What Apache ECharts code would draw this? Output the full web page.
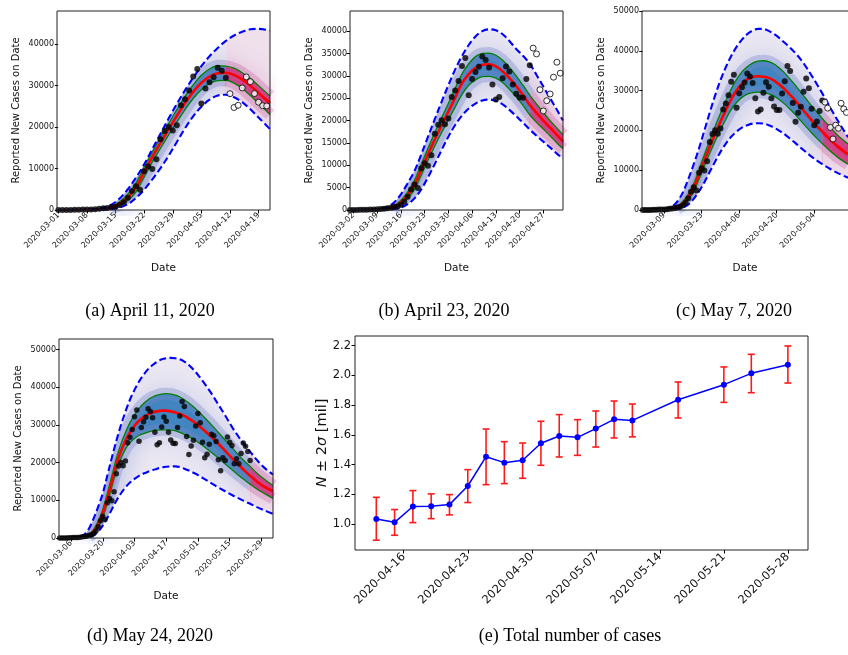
<!DOCTYPE html>
<html><head><meta charset="utf-8">
<script src="https://cdn.jsdelivr.net/npm/echarts@6/dist/echarts.min.js"></script>
<style>html,body{margin:0;padding:0;background:#fff}#c{width:848px;height:655px}</style>
</head><body><div id="c"></div>
<script>
// ---------- data: daily reported new cases, starting 2020-03-01 ----------
const START_DATE = '2020-03-01';
const DAILY = [10,20,25,30,50,70,100,110,150,200,
  300,400,500,700,800,1200,1850,2980,4590,5720,
  4910,9340,10470,9900,12240,17070,19080,20050,19160,20450,
  25280,26730,28820,32200,33980,25680,29310,30840,32050,34300,
  33570,31880,28050,24720,25250,29450,32100,30950,28080,26000,
  25150,25100,29300,32350,36200,34900,26900,22150,24430,25940,
  29700,33050,30600,25420,21300,22250,24850,27500,27100,25600,
  20750,17850,21300,20530,26820,25390,24520,19730,21060,19730,
  22390,25230,24330,22920,20530];

// ---------- panel (a) April 11 ----------
const A_DAYS = [0,6,9,11,13,15,17,19,21,23,25,27,29,31,33,35,37,39,41,43,45,47,49,51.8];
const A_MED = [0,20,80,200,600,1500,3000,5400,9200,12800,16200,19500,22700,25800,28500,30700,32200,33000,33100,32600,31500,30000,28200,25800];
const A_U1  = [0,30,120,300,850,2000,3800,6500,10300,14000,17500,20900,24200,27400,30200,32500,34000,34800,34700,34200,33100,31700,30000,27500];
const A_L1  = [0,10,50,130,400,1100,2300,4400,8000,11600,14900,18100,21200,24200,26900,29000,30500,31200,31300,30600,29300,27600,25700,23000];
const A_U2  = [0,60,250,550,1300,2800,5000,7800,11000,14700,18400,22100,25600,28900,31900,34700,37100,39100,40800,42100,43000,43600,43700,43300];
const A_L2  = [0,5,20,60,200,600,1400,2900,4900,7400,10100,13100,16400,19700,22600,24900,26600,27600,27800,27200,26000,24300,22300,19500];

// ---------- panel (b) April 23 ----------
const B_DAYS = [0,6,9,11,13,15,17,19,21,23,25,27,29,31,33,35,37,39,41,43,45,47,49,51,53,55,57,59,61,62.8];
const B_MED = [0,20,80,250,700,1700,3300,5600,9000,12500,15800,18900,22000,25100,28300,30400,31800,32500,32600,32100,31000,29500,27700,25700,23500,21700,20000,18400,16800,15300];
const B_U1  = [0,30,120,350,950,2200,4000,6600,10200,13800,17300,20600,23800,27200,30400,32700,34300,35000,35100,34600,33500,31900,30000,27900,25700,23700,21800,20000,18300,16800];
const B_L1  = [0,10,50,150,450,1200,2600,4600,7800,11200,14300,17300,20200,23000,25800,27900,29100,29800,29900,29500,28500,27000,25300,23400,21300,19600,18100,16600,15000,13700];
const B_U2  = [0,60,300,700,1700,3500,6000,8700,12400,16400,20300,24200,27900,31400,34400,36900,38800,40000,40400,40200,39300,37800,36000,34500,32700,30200,27600,25000,22400,20000];
const B_L2  = [0,5,20,60,200,550,1300,2600,4600,7300,10300,13400,16400,19000,21100,22700,23800,24500,24700,24400,23600,22400,21000,19500,18000,16600,15300,14000,12600,11500];

// ---------- panel (c) May 7 ----------
const C_DAYS = [0,6,9,11,13,15,17,19,21,23,25,27,29,31,33,35,37,39,41,43,45,47,49,51,53,55,57,59,61,63,65,67,69,71,73,76.6];
const C_MED = [0,20,80,250,700,1700,3300,5600,9000,12500,15900,19100,22200,25100,27800,30000,31700,32800,33400,33600,33500,33200,32500,31500,30300,28900,27400,25800,24200,22600,21100,19700,18300,17000,15800,14000];
const C_U1  = [0,30,120,350,950,2200,4000,6600,10200,13900,17500,21000,24300,27500,30400,32800,34700,36000,36900,37400,37500,37300,36700,35700,34400,32900,31300,29600,27900,26200,24600,23000,21500,20000,18600,16600];
const C_L1  = [0,10,50,150,450,1200,2600,4600,7800,11100,14300,17300,20100,22800,25200,27000,28300,29100,29500,29600,29500,29200,28600,27700,26600,25300,23900,22400,20900,19400,18000,16700,15400,14200,13100,11500];
const C_U2  = [0,60,300,900,2200,4500,7800,11500,15500,20000,24500,28800,32600,35900,38700,41000,42800,44200,45100,45500,45500,45000,44200,43200,42000,40800,39400,37800,35900,33800,31600,29300,26900,24500,22200,18300];
const C_L2  = [0,5,20,60,200,600,1400,2800,4700,7000,9600,12200,14600,16700,18400,19700,20700,21300,21700,21800,21700,21300,20700,19900,19000,17900,16800,15600,14500,13400,12400,11500,10700,9900,9200,8100];

// ---------- panel (d) May 24 ----------
const D_DAYS = [0,6,9,11,13,15,17,19,21,23,25,27,29,31,33,35,37,39,41,43,45,47,49,51,53,55,57,59,61,64,67,70,73,76,79,82,84,87,90,94.1];
const D_MED = [0,20,80,250,700,1800,3700,6500,10500,15000,19500,23000,25800,28000,29800,31100,32100,32800,33300,33600,33800,33800,33600,33300,32900,32400,31700,30900,30000,28400,26800,25000,23100,21200,19400,17600,16500,15000,13700,12400];
const D_U1  = [0,30,120,350,1000,2300,4500,7600,11800,16500,21100,24900,28000,30600,32700,34400,35700,36700,37400,37900,38200,38300,38200,37900,37400,36700,35800,34800,33700,31900,30000,28000,26000,24000,22000,20100,19000,17200,15700,13900];
const D_L1  = [0,10,50,150,450,1300,2900,5400,9200,13500,17900,21100,23600,25300,26400,27200,27700,28100,28400,28600,28700,28700,28600,28400,28000,27500,26900,26200,25400,24100,22700,21200,19600,18100,16600,15200,14300,13000,11900,10500];
const D_U2  = [0,60,300,1000,2600,5200,8300,11800,16500,21300,25800,29900,33500,36700,39300,41500,43300,44800,45900,46800,47400,47700,47800,47700,47400,46800,45900,44700,43300,40900,38300,35400,32500,29500,26800,24300,22900,20700,18800,16800];
const D_L2  = [0,5,20,60,200,700,1700,3300,5300,7600,9900,11800,13400,14700,15700,16500,17100,17600,18000,18400,18700,18900,19000,19000,18800,18400,17900,17300,16700,15600,14500,13400,12400,11400,10500,9600,9100,8200,7400,6400];

// ---------- panel (e) total number of cases (millions) ----------
const E_DATES = ['2020-04-13','2020-04-15','2020-04-17','2020-04-19','2020-04-21','2020-04-23','2020-04-25','2020-04-27','2020-04-29','2020-05-01','2020-05-03','2020-05-05','2020-05-07','2020-05-09','2020-05-11','2020-05-16','2020-05-21','2020-05-24','2020-05-28'];
const E_N  = [1.036,1.013,1.119,1.121,1.132,1.257,1.454,1.414,1.430,1.544,1.593,1.584,1.643,1.705,1.698,1.837,1.938,2.014,2.072];
const E_HI = [1.181,1.099,1.226,1.204,1.199,1.367,1.640,1.555,1.546,1.692,1.737,1.703,1.761,1.828,1.808,1.956,2.057,2.142,2.198];
const E_LO = [0.893,0.926,1.011,1.038,1.063,1.146,1.266,1.273,1.309,1.396,1.452,1.463,1.519,1.580,1.587,1.714,1.819,1.884,1.949];
const E_TICKS = ['2020-04-16','2020-04-23','2020-04-30','2020-05-07','2020-05-14','2020-05-21','2020-05-28'];
const E_YTICKS = [1.0,1.2,1.4,1.6,1.8,2.0,2.2];

// ---------- helpers ----------
const DAY0 = Date.parse(START_DATE + 'T00:00:00Z');
const dayOf = s => Math.round((Date.parse(s + 'T00:00:00Z') - DAY0) / 864e5);
const fmt = d => new Date(DAY0 + Math.round(d) * 864e5).toISOString().slice(0, 10);
const FONT = 'DejaVu Sans';

const PANELS = [
  {days:A_DAYS, med:A_MED, u1:A_U1, l1:A_L1, u2:A_U2, l2:A_L2, fit:dayOf('2020-04-11'), last:51,
   xr:[-0.33,51.8], ymax:48000, xt:['2020-03-01','2020-03-08','2020-03-15','2020-03-22','2020-03-29','2020-04-05','2020-04-12','2020-04-19'],
   yt:[0,10000,20000,30000,40000], g:{left:57,top:11,width:213,height:199}, dot:6, cap:'(a) April 11, 2020', cx:150, cy:311},
  {days:B_DAYS, med:B_MED, u1:B_U1, l1:B_L1, u2:B_U2, l2:B_L2, fit:dayOf('2020-04-23'), last:63,
   xr:[0,62.8], ymax:44500, xt:['2020-03-02','2020-03-09','2020-03-16','2020-03-23','2020-03-30','2020-04-06','2020-04-13','2020-04-20','2020-04-27'],
   yt:[0,5000,10000,15000,20000,25000,30000,35000,40000], g:{left:350,top:11,width:213,height:199}, dot:6, cap:'(b) April 23, 2020', cx:444, cy:311},
  {days:C_DAYS, med:C_MED, u1:C_U1, l1:C_L1, u2:C_U2, l2:C_L2, fit:dayOf('2020-05-07'), last:76,
   xr:[-0.3,76.6], ymax:50000, xt:['2020-03-09','2020-03-23','2020-04-06','2020-04-20','2020-05-04','2020-05-18'],
   yt:[0,10000,20000,30000,40000,50000], g:{left:642,top:11,width:213,height:199}, dot:6, cap:'(c) May 7, 2020', cx:734, cy:311},
  {days:D_DAYS, med:D_MED, u1:D_U1, l1:D_L1, u2:D_U2, l2:D_L2, fit:dayOf('2020-05-24'), last:84,
   xr:[-0.3,94.1], ymax:52800, xt:['2020-03-06','2020-03-20','2020-04-03','2020-04-17','2020-05-01','2020-05-15','2020-05-29'],
   yt:[0,10000,20000,30000,40000,50000], g:{left:59,top:339,width:214,height:199}, dot:5.5, cap:'(d) May 24, 2020', cx:150, cy:636}
];

const grids = [], xAxes = [], yAxes = [], series = [], graphics = [];
const tickStyle = {show:true, length:3.5, lineStyle:{color:'#000', width:1}};
const LAV = '#ebe8f3', LAV_F = '#efe0ec', BLUE = '#3d87c0', PINK = '#d6357a';

function pairs(days, vals, f) { return days.map((d,k)=>[d, vals[k]]).filter(p=>f(p[0])); }

PANELS.forEach((P, i) => {
  grids.push(Object.assign({show:false}, P.g));
  const xt = P.xt.map(dayOf);
  xAxes.push({type:'value', gridIndex:i, min:P.xr[0], max:P.xr[1],
    axisLine:{show:false}, splitLine:{show:false},
    axisTick:Object.assign({customValues:xt}, tickStyle),
    axisLabel:{customValues:xt, rotate:45, fontSize:8, color:'#111', fontFamily:FONT, margin:4, formatter:v=>fmt(v)},
    name:'Date', nameLocation:'middle', nameGap:53, nameTextStyle:{fontSize:10.5, fontFamily:FONT, color:'#111'}});
  yAxes.push({type:'value', gridIndex:i, min:0, max:P.ymax,
    axisLine:{show:false}, splitLine:{show:false},
    axisTick:Object.assign({customValues:P.yt}, tickStyle),
    axisLabel:{customValues:P.yt, fontSize:8, color:'#111', fontFamily:FONT, margin:3, formatter:v=>String(v)},
    name:'Reported New Cases on Date', nameLocation:'middle', nameGap:36, nameRotate:90,
    nameTextStyle:{fontSize:10, fontFamily:FONT, color:'#111'}});

  const hist = d => d <= P.fit, fore = d => d >= P.fit, all = () => true;
  const histG = d => d >= 12 && d <= P.fit;
  // layered areas, drawn in order
  const area = (vals, f, color, z, origin) => ({type:'line', xAxisIndex:i, yAxisIndex:i, data:pairs(P.days, vals, f),
    smooth:0.35, symbol:'none', silent:true, z:z, lineStyle:{width:0, opacity:0},
    areaStyle:{color:color, opacity:1, origin:origin || 'start'}, animation:false});
  series.push(area(P.u2, hist, LAV, 1), area(P.u2, fore, LAV_F, 1));
  series.push(area(P.u1, hist, BLUE, 2), area(P.u1, fore, PINK, 2));
  series.push(area(P.l1, hist, LAV, 3), area(P.l1, fore, LAV_F, 3));

  const line = (vals, f, style, z) => ({type:'line', xAxisIndex:i, yAxisIndex:i, data:pairs(P.days, vals, f),
    smooth:0.35, symbol:'none', silent:true, z:z, lineStyle:style, animation:false});
  // soft purple-blue haze around the inner band edges
  [P.u1, P.l1].forEach(v => {
    series.push(line(v, histG, {color:'rgba(120,135,200,0.35)', width:12, shadowBlur:22, shadowColor:'rgba(110,130,200,0.85)'}, 4));
    series.push(line(v, fore, {color:'rgba(200,90,160,0.3)', width:12, shadowBlur:22, shadowColor:'rgba(205,95,160,0.8)'}, 4));
  });
  // white outside the outer dashed band
  series.push(area(P.u2, all, '#ffffff', 5, 'end'));
  series.push(area(P.l2, all, '#ffffff', 5, 'start'));

  series.push(line(P.u1, all, {color:'#008000', width:1.3}, 6));
  series.push(line(P.l1, all, {color:'#008000', width:1.3}, 6));
  series.push(line(P.med, all, {color:'#ff0000', width:2.6}, 7));
  series.push(line(P.u2, all, {color:'#0000ff', width:2.1, type:[7,3.4]}, 7));
  series.push(line(P.l2, all, {color:'#0000ff', width:2.1, type:[7,3.4]}, 7));

  const obs = DAILY.map((v,d)=>[d,v]);
  series.push({type:'scatter', xAxisIndex:i, yAxisIndex:i, data:obs.filter(p=>p[0] <= P.fit),
    symbolSize:P.dot, itemStyle:{color:'#000'}, z:8, silent:true, animation:false, clip:true});
  series.push({type:'scatter', xAxisIndex:i, yAxisIndex:i, data:obs.filter(p=>p[0] > P.fit && p[0] <= P.last),
    symbolSize:P.dot, itemStyle:{color:'#fff', borderColor:'#000', borderWidth:1}, z:8, silent:true, animation:false, clip:true});

  graphics.push({type:'rect', silent:true, z:100,
    shape:{x:P.g.left, y:P.g.top, width:P.g.width, height:P.g.height},
    style:{fill:null, stroke:'#222', lineWidth:1}});
  graphics.push({type:'text', silent:true, x:P.cx, y:P.cy,
    style:{text:P.cap, font:'18px "Liberation Serif"', fill:'#000', textAlign:'center', textVerticalAlign:'middle'}});
});

// ---------- panel (e) ----------
const EG = {left:355, top:336, width:453, height:214};
const ei = PANELS.length;
grids.push(Object.assign({show:false}, EG));
const eTicks = E_TICKS.map(dayOf);
xAxes.push({type:'value', gridIndex:ei, min:40.67, max:90.2,
  axisLine:{show:false}, splitLine:{show:false},
  axisTick:Object.assign({customValues:eTicks}, tickStyle),
  axisLabel:{customValues:eTicks, rotate:45, fontSize:11.5, color:'#111', fontFamily:FONT, margin:5, formatter:v=>fmt(v)}});
yAxes.push({type:'value', gridIndex:ei, min:0.827, max:2.265,
  axisLine:{show:false}, splitLine:{show:false},
  axisTick:Object.assign({customValues:E_YTICKS}, tickStyle),
  axisLabel:{customValues:E_YTICKS, fontSize:11.5, color:'#111', fontFamily:FONT, margin:4, formatter:v=>v.toFixed(1)},
  name:'{it|N} ± 2{it|σ} [mil]', nameLocation:'middle', nameGap:25, nameRotate:90, nameMoveOverlap:false,
  nameTextStyle:{fontSize:14.5, fontFamily:FONT, color:'#111', rich:{it:{fontStyle:'italic', fontSize:14.5, fontFamily:FONT, color:'#111'}}}});
const eX = E_DATES.map(dayOf);
series.push({type:'custom', xAxisIndex:ei, yAxisIndex:ei, z:3, silent:true, animation:false,
  data:eX.map((x,k)=>[x, E_LO[k], E_HI[k]]),
  renderItem:(params, api)=>{
    const lo = api.coord([api.value(0), api.value(1)]);
    const hi = api.coord([api.value(0), api.value(2)]);
    const w = 3.5, st = {stroke:'#ff1a1a', lineWidth:1.6};
    return {type:'group', children:[
      {type:'line', shape:{x1:lo[0], y1:lo[1], x2:hi[0], y2:hi[1]}, style:st},
      {type:'line', shape:{x1:lo[0]-w, y1:lo[1], x2:lo[0]+w, y2:lo[1]}, style:st},
      {type:'line', shape:{x1:hi[0]-w, y1:hi[1], x2:hi[0]+w, y2:hi[1]}, style:st}
    ]};
  }});
series.push({type:'line', xAxisIndex:ei, yAxisIndex:ei, z:5, silent:true, animation:false,
  data:eX.map((x,k)=>[x, E_N[k]]), symbol:'circle', symbolSize:6, showSymbol:true,
  lineStyle:{color:'#0000ff', width:1.5}, itemStyle:{color:'#0000ff'}});
graphics.push({type:'rect', silent:true, z:100, shape:{x:EG.left, y:EG.top, width:EG.width, height:EG.height},
  style:{fill:null, stroke:'#222', lineWidth:1}});
graphics.push({type:'text', silent:true, x:570, y:636,
  style:{text:'(e) Total number of cases', font:'18px "Liberation Serif"', fill:'#000', textAlign:'center', textVerticalAlign:'middle'}});

const chart = echarts.init(document.getElementById('c'), null, {renderer:'canvas'});
chart.setOption({animation:false, backgroundColor:'#fff', grid:grids, xAxis:xAxes, yAxis:yAxes, series:series, graphic:graphics});
</script></body></html>
